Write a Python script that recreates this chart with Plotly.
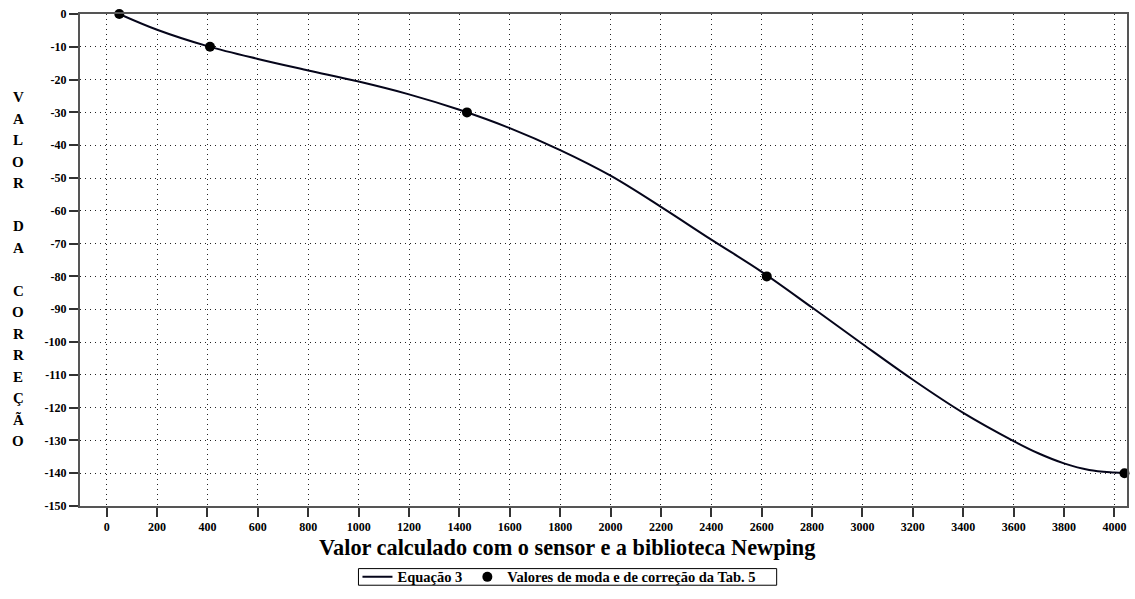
import plotly.graph_objects as go

# Equação 3 curve
curve_x = [50, 200, 400, 600, 800, 1000, 1200, 1400, 1600, 1800, 2000, 2200,
           2400, 2600, 2800, 3000, 3200, 3400, 3600, 3700, 3800, 3900, 4000, 4040]
curve_y = [0, -4.8, -9.8, -13.7, -17.2, -20.6, -24.5, -29.2, -34.8, -41.5, -49.3,
           -58.8, -68.8, -78.6, -89.5, -100.6, -111.5, -121.6, -130.2, -134.0,
           -137.0, -139.0, -139.8, -140.0]

# Valores de moda e de correção da Tab. 5
point_x = [50, 410, 1430, 2620, 4040]
point_y = [0, -10, -30, -80, -140]

x_ticks = list(range(0, 4001, 200))
y_ticks = list(range(0, -151, -10))
y_ticktext = [str(v) if v == 0 else "-" + str(-v) for v in y_ticks]

y_title_letters = ["V", "A", "L", "O", "R", "", "D", "A", "", "C", "O", "R", "R", "E", "Ç", "Ã", "O"]

FONT = "Liberation Serif"

fig = go.Figure()
fig.add_trace(go.Scatter(
    x=curve_x, y=curve_y, mode="lines", name="<b>Equação 3</b>",
    line=dict(color="#05051a", width=2, shape="spline", smoothing=1.0),
    cliponaxis=False,
))
fig.add_trace(go.Scatter(
    x=point_x, y=point_y, mode="markers",
    name="<b>Valores de moda e de correção da Tab. 5</b>",
    marker=dict(color="black", size=10, symbol="circle"),
    cliponaxis=False,
))

W, H = 1135, 599
ml, mr, mt, mb = 80, 6, 14, 82
plot_h = H - mt - mb
plot_w = W - ml - mr


def px_x(p):
    return (p - ml) / plot_w


def px_y(p):
    return 1 - (p - mt) / plot_h


annotations = []
# stacked vertical y-axis title
top_px, step = 99, 22
for i, ch in enumerate(y_title_letters):
    if not ch:
        continue
    annotations.append(dict(
        text="<b>%s</b>" % ch, xref="paper", yref="paper",
        x=px_x(18), y=px_y(top_px + i * step),
        xanchor="center", yanchor="middle", showarrow=False,
        font=dict(family=FONT, size=15, color="black"),
    ))
# x-axis title
annotations.append(dict(
    text="<b>Valor calculado com o sensor e a biblioteca Newping</b>",
    xref="paper", yref="paper",
    x=px_x(568), y=px_y(559),
    xanchor="center", yanchor="middle", showarrow=False,
    font=dict(family=FONT, size=22.3, color="black"),
))

legend_top, legend_bottom = 581, 598
shapes = [dict(
    type="rect", xref="paper", yref="paper",
    x0=px_x(359), x1=px_x(778), y0=px_y(legend_bottom), y1=px_y(legend_top),
    line=dict(color="black", width=1), fillcolor="rgba(0,0,0,0)", layer="above",
)]

fig.update_layout(
    width=W, height=H,
    margin=dict(l=ml, r=mr, t=mt, b=mb),
    paper_bgcolor="white", plot_bgcolor="white",
    font=dict(family=FONT, color="black"),
    showlegend=True,
    legend=dict(
        orientation="h", xref="paper", yref="paper",
        x=px_x(358), y=px_y((legend_top + legend_bottom) / 2),
        xanchor="left", yanchor="middle",
        borderwidth=0, bgcolor="rgba(0,0,0,0)",
        font=dict(family=FONT, size=14.5, color="black"),
        itemwidth=30, tracegroupgap=0,
    ),
    annotations=annotations,
    shapes=shapes,
)
fig.update_xaxes(
    range=[-106, 4050], tickvals=x_ticks, ticktext=["<b>%d</b>" % v for v in x_ticks],
    ticks="outside", ticklen=9, tickwidth=2, tickcolor="#333",
    tickfont=dict(family=FONT, size=12, color="black"),
    showgrid=True, gridcolor="#222", griddash="1px,4px", gridwidth=1,
    showline=True, linecolor="#555", linewidth=2, mirror=True,
    zeroline=False,
)
fig.update_yaxes(
    range=[-150, 0], tickvals=y_ticks, ticktext=["<b>%s</b>" % t for t in y_ticktext],
    ticks="outside", ticklen=9, tickwidth=2, tickcolor="#333",
    tickfont=dict(family=FONT, size=12, color="black"),
    showgrid=True, gridcolor="#222", griddash="1px,4px", gridwidth=1,
    showline=True, linecolor="#555", linewidth=2, mirror=True,
    zeroline=False,
)

fig.write_html(
    "out.html",
    config={"displayModeBar": False},
    post_script="document.body.style.margin='0';document.body.style.overflow='hidden';",
)
